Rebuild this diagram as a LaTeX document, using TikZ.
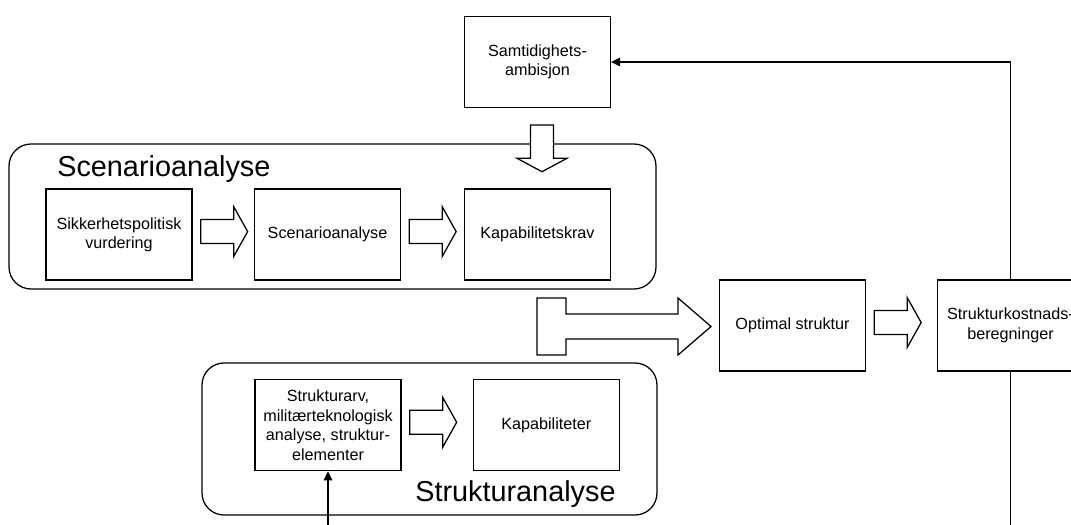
\documentclass[tikz,border=0pt]{standalone}
\usepackage{fontspec}
\setmainfont{Liberation Sans}
\usetikzlibrary{arrows.meta, positioning, fit, backgrounds, calc}
\tikzset{
  proc box/.style   = {rectangle, draw, line width=0.9pt, fill=white, minimum width=3.65cm, minimum height=2.275cm, align=center, font=\fontsize{11.5}{13.8}\selectfont, inner sep=2pt},
  group bg/.style   = {rectangle, rounded corners=0.55cm, draw, line width=0.9pt, inner sep=0pt},
  group title/.style= {font=\fontsize{20.5}{24}\selectfont, anchor=base west, inner sep=0pt},
  fatarr/.style     = {draw, line width=0.9pt, fill=white, line join=miter},
  feed/.style       = {-{Triangle[length=6.4pt,width=6.2pt]}, line width=0.9pt},
}
% hul pil fra et nodeanker og mot hoeyre
\newcommand{\fatarrow}[1]{%
  \draw[fatarr] ($(#1)+(8,-15)$) -- ++(33,0) -- ++(0,-13) -- ++(14,25) -- ++(-14,25) -- ++(0,-13) -- ++(-33,0) -- cycle;}

\begin{document}
\begin{tikzpicture}[x=0.025cm, y=-0.025cm]

\useasboundingbox (0,0) rectangle (1071,525);
\clip (0,0) rectangle (1071,525);

% ===================== Ambisjon =====================
\node[proc box] (samt) at (537.5, 62) {Samtidighets-\\ambisjon};

% ===================== Scenarioanalyse =====================
\node[proc box] (sikk)    at (119,   234.6) {Sikkerhetspolitisk\\vurdering};
\node[proc box] (scen)    at (327.5, 234.6) {Scenarioanalyse};
\node[proc box] (kapkrav) at (537.5, 234.6) {Kapabilitetskrav};

\coordinate (S-nw) at (9, 144);
\coordinate (S-se) at (656, 289);
\begin{scope}[on background layer]
    \node[group bg, fit=(S-nw)(S-se)] (scengroup) {};
\end{scope}
\node[group title] (scentitle) at (57, 176.7) {Scenarioanalyse};

\fatarrow{sikk.east}
\fatarrow{scen.east}

% pil ned fra ambisjon
\coordinate (dtop) at (542, 125);
\draw[fatarr] (dtop) ++(-11.5,0) -- ++(23,0) -- ++(0,33.3) -- ++(13.5,0)
    -- ++(-25,13.4) -- ++(-25,-13.4) -- ++(13.5,0) -- cycle;

% ===================== Strukturanalyse =====================
\node[proc box] (arv) at (328,   425.3) {Strukturarv,\\militærteknologisk\\analyse, struktur-\\elementer};
\node[proc box] (kap) at (546.3, 425.3) {Kapabiliteter};

\coordinate (T-nw) at (202, 363);
\coordinate (T-se) at (657, 515);
\begin{scope}[on background layer]
    \node[group bg, fit=(T-nw)(T-se)] (strgroup) {};
\end{scope}
\node[group title] (strtitle) at (415, 501.7) {Strukturanalyse};

\fatarrow{arv.east}

\coordinate (arvin) at ($(arv.south)+(0,70)$);
\draw[feed] (arvin) -- (arv.south);

% ===================== Optimal struktur og kostnader =====================
\node[proc box] (opt)  at (792.5,  325.5) {Optimal struktur};
\node[proc box] (cost) at (1010.5, 325.5) {Strukturkostnads-\\beregninger};

% samlepil inn mot optimal struktur
\coordinate (tstart) at (537, 326.5);
\draw[fatarr] (tstart) ++(0,-28.5) -- ++(29,0) -- ++(0,16) -- ++(112,0) -- ++(0,-16)
    -- ++(33,28.5) -- ++(-33,28.5) -- ++(0,-16) -- ++(-112,0) -- ++(0,16) -- ++(-29,0) -- cycle;

\fatarrow{opt.east}

\draw[feed] (cost.north) |- (samt.east);
\coordinate (costout) at ($(cost.south)+(0,200)$);
\draw[line width=0.9pt] (cost.south) -- (costout);

\end{tikzpicture}
\end{document}
